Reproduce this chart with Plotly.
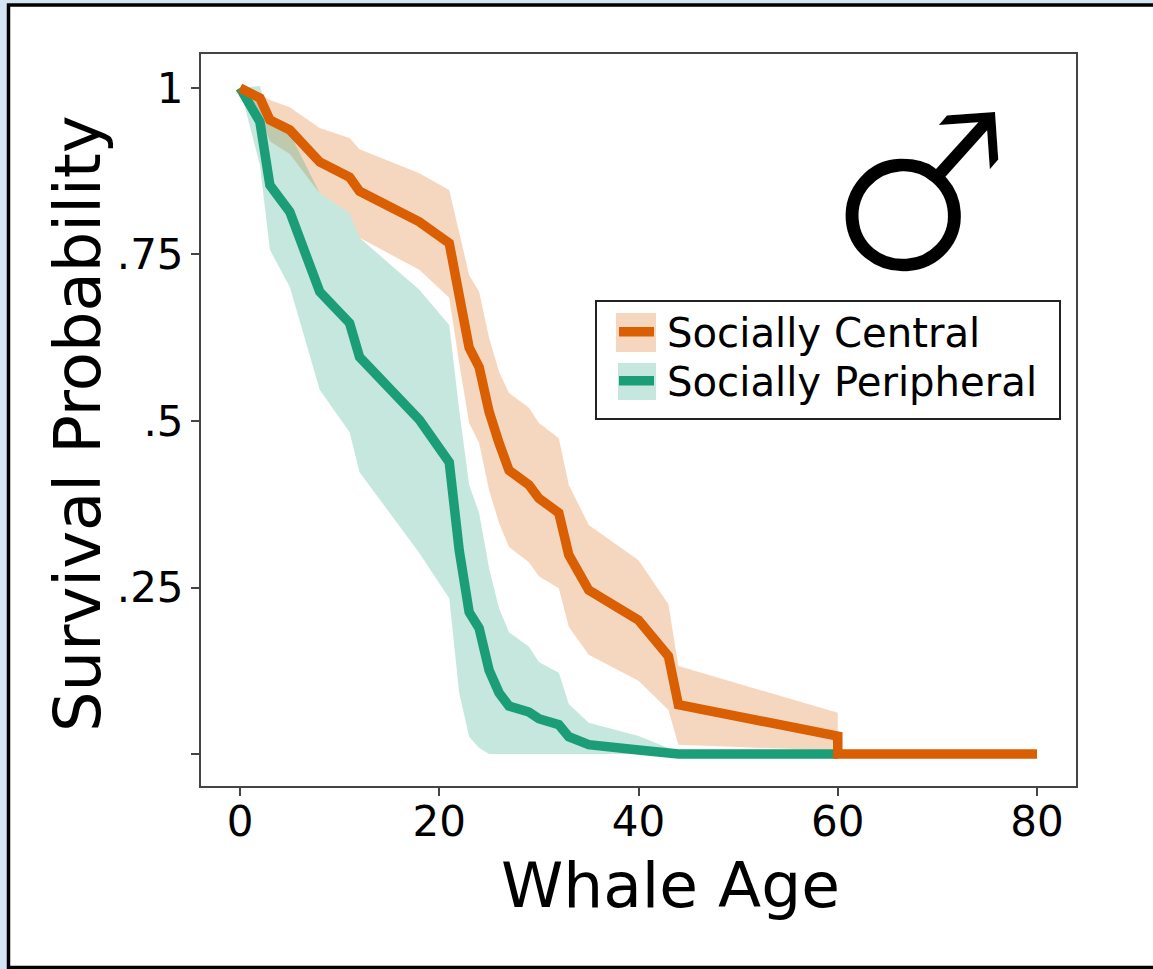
import plotly.graph_objects as go

ages = [0, 2, 3, 5, 8, 11, 12, 18, 21, 22, 23, 24, 25, 26, 27, 29, 30, 32, 33, 35, 40, 43, 44, 60]
central_ages = ages + [60, 80]
central = [1.000, .985, .952, .937, .889, .866, .845, .799, .767, .689, .610, .581, .514, .467, .426, .404,
           .384, .362, .299, .246, .201, .147, .074, .027, 0, 0]
central_upper = [1, .991, .982, .971, .940, .925, .908, .872, .847, .784, .719, .694, .625, .574, .542, .520,
                 .497, .474, .404, .344, .291, .225, .132, .062]
central_lower = [1, .959, .920, .901, .842, .812, .775, .727, .685, .587, .497, .467, .396, .347, .311, .288,
                 .267, .249, .191, .149, .110, .066, .014, .005]
peripheral = [1, .949, .854, .814, .694, .647, .596, .502, .438, .306, .213, .189, .126, .092, .072, .063,
              .053, .044, .026, .014, .006, .002, 0, 0]
peripheral_upper = [1, 1.003, .952, .932, .842, .812, .775, .697, .644, .517, .404, .362, .279, .219, .183, .161,
                    .138, .122, .075, .047, .027, .009, 0, 0]
peripheral_lower = [1, .884, .757, .701, .547, .483, .423, .302, .234, .092, .026, .009, 0, 0, 0, 0,
                    0, 0, 0, 0, 0, 0, 0, 0]
y_ticks = [0, .25, .5, .75, 1]
y_labels = ["", ".25", ".5", ".75", "1"]
x_ticks = [0, 20, 40, 60, 80]

ORANGE, GREEN = "#d95f02", "#1b9e77"
ORANGE_F, GREEN_F = "rgba(217,95,2,0.25)", "rgba(27,158,119,0.25)"
FONT = "DejaVu Sans"
W, H = 1153, 969
L, R, T, B = 201, 1076, 54, 786


def px(x):
    return (x - L) / (R - L)


def py(y):
    return (B - y) / (B - T)


fig = go.Figure()
for up, lo, fc in [(central_upper, central_lower, ORANGE_F), (peripheral_upper, peripheral_lower, GREEN_F)]:
    fig.add_trace(go.Scatter(x=ages, y=up, mode="lines", line=dict(width=0), showlegend=False, hoverinfo="skip"))
    fig.add_trace(go.Scatter(x=ages, y=lo, mode="lines", line=dict(width=0), fill="tonexty", fillcolor=fc,
                             showlegend=False, hoverinfo="skip"))
fig.add_trace(go.Scatter(x=ages, y=peripheral, mode="lines", name="\u2009Socially Peripheral",
                         line=dict(color=GREEN, width=9.5), legend="legend2"))
fig.add_trace(go.Scatter(x=central_ages, y=central, mode="lines", name="\u2009Socially Central",
                         line=dict(color=ORANGE, width=9.5), legend="legend"))

shapes = [
    dict(type="rect", xref="paper", yref="paper", layer="below", x0=px(8.5), x1=px(1170), y0=py(5), y1=py(967.5),
         line=dict(color="black", width=3.5), fillcolor="white"),
    dict(type="rect", xref="paper", yref="paper", layer="below", x0=px(596), x1=px(1060), y0=py(419), y1=py(301),
         line=dict(color="#222", width=2), fillcolor="white"),
    dict(type="rect", xref="paper", yref="paper", layer="below", x0=px(616), x1=px(656), y0=py(352), y1=py(313),
         line=dict(width=0), fillcolor=ORANGE_F),
    dict(type="rect", xref="paper", yref="paper", layer="below", x0=px(618), x1=px(656), y0=py(400), y1=py(363),
         line=dict(width=0), fillcolor=GREEN_F),
]


def legend_at(x, y):
    return dict(x=px(x), y=py(y), xanchor="left", yanchor="top", bgcolor="rgba(0,0,0,0)", borderwidth=0,
                font=dict(size=40.2, family=FONT, color="black"), itemwidth=35)


anns = [
    dict(text="\u2642", xref="paper", yref="paper", x=px(921), y=py(195), xanchor="center", yanchor="middle",
         showarrow=False, textangle=-4, font=dict(size=216, family=FONT, color="black")),
    dict(text="Whale Age", xref="paper", yref="paper", x=px(670), y=py(885), xanchor="center", yanchor="middle",
         showarrow=False, font=dict(size=63, family=FONT, color="black")),
    dict(text="Survival Probability", xref="paper", yref="paper", x=px(78), y=py(424), xanchor="center",
         yanchor="middle", showarrow=False, textangle=-90, font=dict(size=64, family=FONT, color="black")),
]

fig.update_layout(
    width=W, height=H, autosize=False,
    margin=dict(l=L, r=W - R, t=T, b=H - B, pad=0),
    paper_bgcolor="#d5e4f3", plot_bgcolor="white",
    font=dict(family=FONT, color="black"),
    shapes=shapes,
    showlegend=True,
    legend=legend_at(614, 299),
    legend2=legend_at(614, 348),
    annotations=anns,
)
axis_common = dict(showline=True, linecolor="#444", linewidth=2, mirror=True, showgrid=False, zeroline=False,
                   ticks="outside", ticklen=8, tickwidth=2, tickcolor="#444",
                   tickfont=dict(size=42, family=FONT, color="black"))
fig.update_xaxes(range=[-3.915, 83.91], tickvals=x_ticks, ticklabelstandoff=-10, **axis_common)
fig.update_yaxes(range=[-0.048, 1.051], tickvals=y_ticks, ticktext=y_labels, ticklabelstandoff=-1, **axis_common)

POST = """
document.body.style.margin='0';document.body.style.overflow='hidden';
function thin(){document.querySelectorAll('.annotation-text').forEach(function(t){
  if(t.textContent.indexOf('\\u2642')>=0){t.style.stroke='white';t.style.strokeWidth='6px';}});}
thin();[50,200,500,1000].forEach(function(d){setTimeout(thin,d);});
"""
fig.write_html("out.html", post_script=POST, config=dict(displayModeBar=False))
